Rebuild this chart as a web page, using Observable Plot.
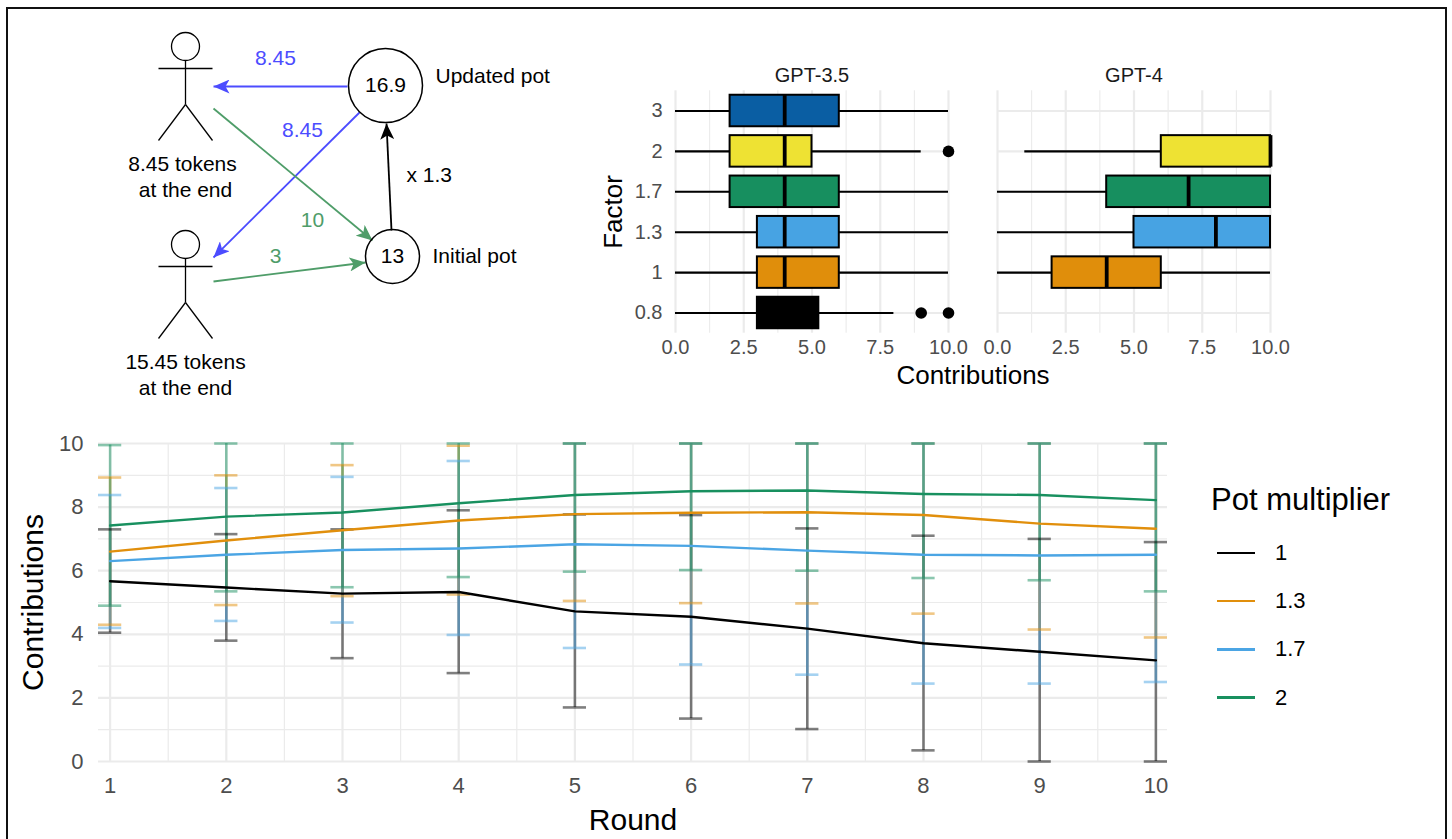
<!DOCTYPE html>
<html><head><meta charset="utf-8">
<script src="https://cdn.jsdelivr.net/npm/d3@7"></script>
<script src="https://cdn.jsdelivr.net/npm/@observablehq/plot@0.6"></script>
<style>
html,body{margin:0;padding:0;background:#fff;width:1452px;height:839px;overflow:hidden;font-family:"Liberation Sans",Arial,sans-serif}
#frame{position:absolute;left:6px;top:7px;width:1441px;height:860px;border:2.5px solid #111;box-sizing:border-box}
.p{position:absolute}
.p svg{display:block;background:transparent;font-family:"Liberation Sans",Arial,sans-serif}
#legend{position:absolute;left:1211px;top:483px;color:#000}
#legend .t{font-size:31px;line-height:34px;white-space:nowrap}
#legend .r{position:absolute;left:6px;width:200px;height:30px;display:flex;align-items:center}
#legend .k{width:38px;height:2.5px;margin-right:20px}
#legend .l{font-size:22px}
</style></head><body>
<div id="frame"></div>
<div id="a" class="p" style="left:0;top:0"></div>
<div id="b" class="p" style="left:580px;top:55px"></div>
<div id="c" class="p" style="left:0;top:420px"></div>
<div id="legend"></div>
<script>
// ---- Line chart data
const rounds = [1,2,3,4,5,6,7,8,9,10];
const multipliers = ["1","1.3","1.7","2"];
const lineColors = ["#000000","#E18F0C","#4BA5E4","#18905F"];
const mean1  = [5.67,5.47,5.28,5.33,4.72,4.55,4.18,3.72,3.45,3.18];
const upper1 = [7.30,7.15,7.30,7.90,7.77,7.75,7.33,7.10,7.00,6.90];
const lower1 = [4.05,3.80,3.25,2.78,1.70,1.35,1.02,0.35,0,0];
const mean13  = [6.60,6.95,7.27,7.58,7.78,7.82,7.84,7.75,7.48,7.32];
const upper13 = [8.93,9.00,9.32,9.93,10,10,10,10,10,10];
const lower13 = [4.30,4.92,5.20,5.25,5.05,4.98,4.97,4.65,4.15,3.90];
const mean17  = [6.30,6.50,6.65,6.70,6.83,6.78,6.63,6.50,6.48,6.50];
const upper17 = [8.38,8.60,8.95,9.45,10,10,10,10,10,10];
const lower17 = [4.20,4.42,4.37,3.98,3.57,3.05,2.73,2.45,2.45,2.50];
const mean2  = [7.42,7.70,7.83,8.12,8.38,8.50,8.52,8.41,8.38,8.22];
const upper2 = [9.95,10,10,10,10,10,10,10,10,10];
const lower2 = [4.90,5.35,5.48,5.80,5.97,6.02,6.00,5.77,5.70,5.35];
const seriesMeans = [mean1,mean13,mean17,mean2], seriesUp = [upper1,upper13,upper17,upper2], seriesLow = [lower1,lower13,lower17,lower2];

// ---- Box plot data
const models = ["GPT-3.5","GPT-4"];
const factors = ["3","2","1.7","1.3","1","0.8"];
const boxColors = {"3":"#0A5EA3","2":"#EEE233","1.7":"#178F5F","1.3":"#47A3E3","1":"#E08E0B","0.8":"#000000"};
const q1A=[2,2,2,3,3,3], medA=[4,4,4,4,4,4], q3A=[6,5,6,6,6,5.25], loA=[0,0,0,0,0,0], hiA=[10,9,10,10,10,8];
const factorsB=["2","1.7","1.3","1"];
const q1B=[6,4,5,2], medB=[10,7,8,4], q3B=[10,10,10,6], loB=[1,0,0,0], hiB=[10,10,10,10];
const outlierFactors=["2","0.8","0.8"], outlierValues=[10,9,10];

// ---- Diagram data (diagram units)
const diagramCircles=[{x:385,y:85,r:37,t:"16.9"},{x:392,y:256,r:27,t:"13"}];
const heads=[{x:185,y:46},{x:185,y:244}];
const figureSegments=[
 [158,68,212,68],[185,60,185,104],[185,104,158,140],[185,104,212,140],
 [158,266,212,266],[185,258,185,302],[185,302,158,338],[185,302,212,338]
];
const arrows=[
 [347,86,213,86,"#4C4CFF"],[359,112,213,257,"#4C4CFF"],
 [213,108,372,240,"#4F9D69"],[213,281,365,262,"#4F9D69"],[391,230,386,123,"#000000"]
];
const centeredLabels=[
 [275,58,"8.45","#4C4CFF"],[302,130,"8.45","#4C4CFF"],
 [312,220,"10","#4F9D69"],[275,256,"3","#4F9D69"],
 [182,164,"8.45 tokens","#000"],[185,190,"at the end","#000"],
 [185,362,"15.45 tokens","#000"],[185,388,"at the end","#000"]
];
const leftLabels=[[406,175,"x 1.3"],[435,76,"Updated pot"],[432,256,"Initial pot"]];

const F='"Liberation Sans",Arial,sans-serif';
function head(color,context){
  const NS="http://www.w3.org/2000/svg", m=context.document.createElementNS(NS,"marker");
  m.setAttribute("viewBox","-16 -7 16 14");m.setAttribute("markerUnits","userSpaceOnUse");
  m.setAttribute("markerWidth",16);m.setAttribute("markerHeight",14);
  m.setAttribute("orient","auto");m.setAttribute("refX",0);m.setAttribute("refY",0);
  const p=context.document.createElementNS(NS,"path");
  p.setAttribute("d","M0,0L-16,-7L-12,0L-16,7Z");p.setAttribute("fill",color);p.setAttribute("stroke","none");
  m.appendChild(p);return m;
}
// ---- Diagram
document.getElementById("a").append(Plot.plot({
  width:600,height:410,margin:0,x:{domain:[0,600],range:[0,600],axis:null},y:{domain:[0,410],range:[0,410],axis:null},
  style:{fontFamily:F,background:"transparent"},
  r:{type:"identity"},
  marks:[
    Plot.link(figureSegments,{x1:d=>d[0],y1:d=>d[1],x2:d=>d[2],y2:d=>d[3],stroke:"#000",strokeWidth:1.3}),
    Plot.dot(heads,{x:"x",y:"y",r:14,stroke:"#000",strokeWidth:1.3,fill:"#fff"}),
    Plot.link(arrows,{x1:d=>d[0],y1:d=>d[1],x2:d=>d[2],y2:d=>d[3],stroke:d=>d[4],strokeWidth:1.8,markerEnd:head}),
    Plot.dot(diagramCircles,{x:"x",y:"y",r:"r",stroke:"#000",strokeWidth:1.5,fill:"none"}),
    Plot.text(diagramCircles,{x:"x",y:"y",text:"t",fontSize:21,fill:"#000"}),
    Plot.text(centeredLabels,{x:d=>d[0],y:d=>d[1],text:d=>d[2],fill:d=>d[3],fontSize:21}),
    Plot.text(leftLabels,{x:d=>d[0],y:d=>d[1],text:d=>d[2],fill:"#000",textAnchor:"start",fontSize:21})
  ]
}));
// ---- Box plots
const boxes=[
  ...factors.map((f,i)=>({model:models[0],f,q1:q1A[i],med:medA[i],q3:q3A[i],lo:loA[i],hi:hiA[i]})),
  ...factorsB.map((f,i)=>({model:models[1],f,q1:q1B[i],med:medB[i],q3:q3B[i],lo:loB[i],hi:hiB[i]}))
];
const outliers=outlierFactors.map((f,i)=>({model:models[0],f,v:outlierValues[i]}));
const gridMajor="#EBEBEB";
document.getElementById("b").append(Plot.plot({
  width:720,height:340,marginLeft:95,marginRight:29,marginTop:35.3,marginBottom:62.3,
  style:{fontFamily:F,background:"transparent"},
  fx:{domain:models,paddingInner:0.152,paddingOuter:0,label:null},
  x:{domain:[0,10]},
  y:{type:"band",domain:factors,paddingInner:0.22,paddingOuter:0.11,round:false,label:null},
  marks:[
    Plot.ruleX([1.25,3.75,6.25,8.75],{stroke:gridMajor,strokeWidth:1.1}),
    Plot.ruleX([0,2.5,5,7.5,10],{stroke:gridMajor,strokeWidth:2.2}),
    Plot.ruleY(factors,{y:d=>d,x1:0,x2:10,stroke:gridMajor,strokeWidth:2.2}),
    Plot.ruleY(boxes,{fx:"model",y:"f",x1:"lo",x2:"hi",stroke:"#000",strokeWidth:2.1}),
    Plot.barX(boxes,{fx:"model",y:"f",x1:"q1",x2:"q3",fill:d=>boxColors[d.f],stroke:"#000",strokeWidth:2}),
    Plot.tickX(boxes,{fx:"model",y:"f",x:"med",stroke:"#000",strokeWidth:3.8}),
    Plot.dot(outliers,{fx:"model",y:"f",x:"v",r:5.8,fill:"#000"}),
    Plot.axisY({anchor:"left",tickSize:0,tickPadding:13,fontSize:20,color:"#4d4d4d",label:null}),
    Plot.axisX({anchor:"bottom",ticks:[0,2.5,5,7.5,10],tickFormat:d3.format(".1f"),tickSize:0,tickPadding:7,fontSize:20,color:"#4d4d4d",label:null}),
    Plot.axisFx({anchor:"top",tickSize:0,tickPadding:9,fontSize:20,color:"#1a1a1a",label:null}),
    Plot.text(["Contributions"],{frameAnchor:"bottom",dy:51,fontSize:26,fill:"#000",facet:"super"}),
    Plot.text(["Factor"],{frameAnchor:"left",textAnchor:"middle",dx:-62,rotate:-90,fontSize:26,fill:"#000",facet:"super"})
  ]
}));
// ---- Line chart
const table=multipliers.flatMap((m,s)=>rounds.map((r,i)=>({m,r,mean:seriesMeans[s][i],up:seriesUp[s][i],low:seriesLow[s][i],c:lineColors[s]})));
document.getElementById("c").append(Plot.plot({
  width:1180,height:419,marginLeft:98,marginRight:13,marginTop:23,marginBottom:78,
  style:{fontFamily:F,background:"transparent"},
  x:{domain:[0.9,10.1]},y:{domain:[0,10]},
  marks:[
    Plot.ruleX(d3.range(1.5,10,1),{stroke:gridMajor,strokeWidth:1.2}),
    Plot.ruleY([1,3,5,7,9],{stroke:gridMajor,strokeWidth:1.2}),
    Plot.ruleX(rounds,{stroke:gridMajor,strokeWidth:2.2}),
    Plot.ruleY([0,2,4,6,8,10],{stroke:gridMajor,strokeWidth:2.2}),
    Plot.ruleX(table,{x:"r",y1:"low",y2:"up",stroke:"c",strokeWidth:2.6,strokeOpacity:0.5}),
    Plot.ruleY(table,{y:"up",x1:d=>d.r-0.1,x2:d=>d.r+0.1,stroke:"c",strokeWidth:2.6,strokeOpacity:0.5}),
    Plot.ruleY(table,{y:"low",x1:d=>d.r-0.1,x2:d=>d.r+0.1,stroke:"c",strokeWidth:2.6,strokeOpacity:0.5}),
    Plot.line(table,{x:"r",y:"mean",z:"m",stroke:"c",strokeWidth:2.4}),
    Plot.axisX({ticks:rounds,tickSize:0,tickPadding:16,fontSize:22,color:"#4d4d4d",label:null}),
    Plot.axisY({ticks:[0,2,4,6,8,10],tickSize:0,tickPadding:15,fontSize:22,color:"#4d4d4d",label:null}),
    Plot.text(["Round"],{frameAnchor:"bottom",dy:68,fontSize:30,fill:"#000"}),
    Plot.text(["Contributions"],{frameAnchor:"left",textAnchor:"middle",dx:-65,rotate:-90,fontSize:30,fill:"#000"})
  ]
}));
// ---- Legend
const lg=document.getElementById("legend");
lg.innerHTML='<div class="t">Pot multiplier</div>'+multipliers.map((m,i)=>`<div class="r" style="top:${55+i*48.2}px"><div class="k" style="background:${lineColors[i]}"></div><div class="l">${m}</div></div>`).join("");
</script>
</body></html>
